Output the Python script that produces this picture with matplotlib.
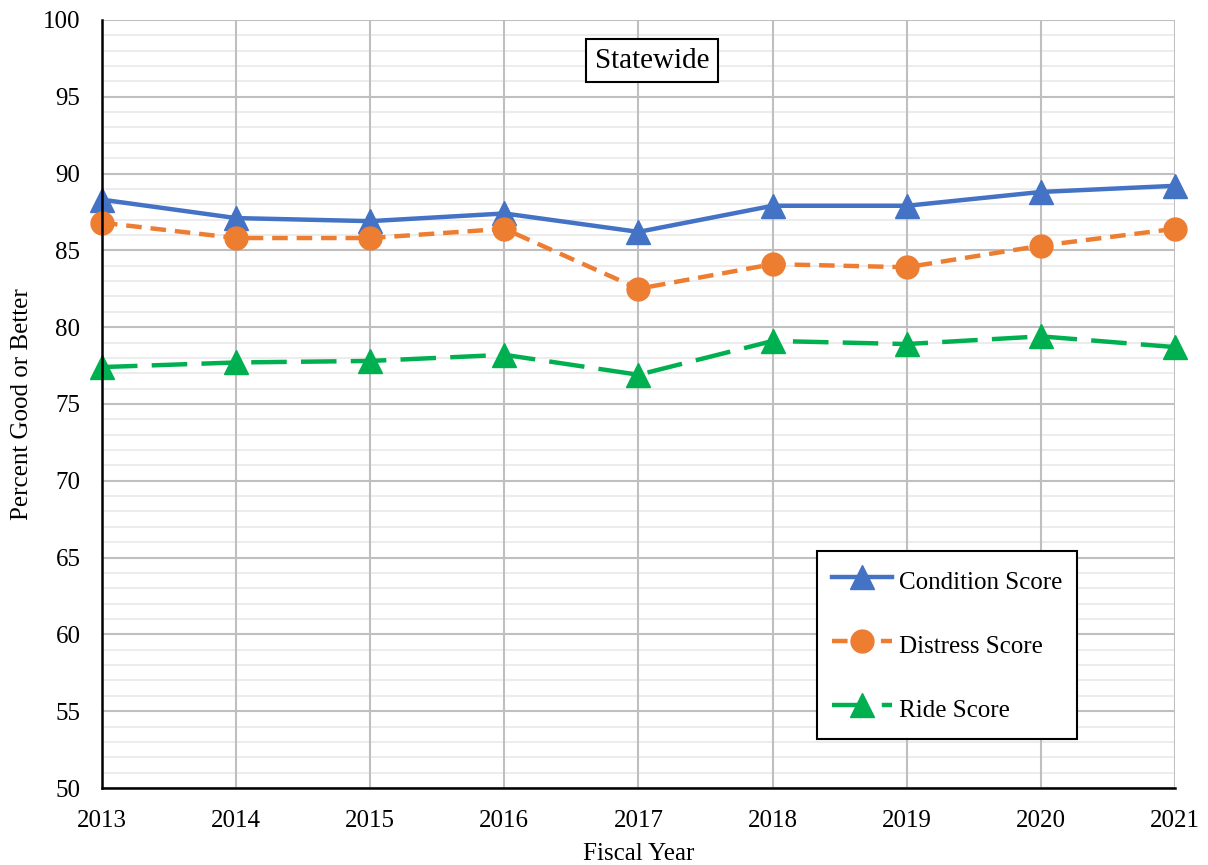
import matplotlib.pyplot as plt
from matplotlib.ticker import MultipleLocator

# Pavement scores, percent good or better
years = [2013, 2014, 2015, 2016, 2017, 2018, 2019, 2020, 2021]
condition = [88.3, 87.1, 86.9, 87.4, 86.2, 87.9, 87.9, 88.8, 89.2]
distress = [86.8, 85.8, 85.8, 86.4, 82.5, 84.1, 83.9, 85.3, 86.4]
ride = [77.4, 77.7, 77.8, 78.2, 76.9, 79.1, 78.9, 79.4, 78.7]

plt.rcParams['font.family'] = ['Liberation Serif', 'DejaVu Serif']

fig = plt.figure(figsize=(12.08, 8.65), dpi=100)
ax = fig.add_axes([0.0844, 0.089, 0.8883, 0.888])

ax.plot(years, condition, color='#4472C4', lw=3.2, marker='^', ms=17,
        label='Condition Score', zorder=4, clip_on=False)
ax.plot(years, distress, color='#ED7D31', lw=3.2, ls=(0, (3.5, 2.0)),
        marker='o', ms=16.5, label='Distress Score', zorder=4, clip_on=False)
ax.plot(years, ride, color='#00B050', lw=3.2, ls=(0, (8, 3.2)),
        marker='^', ms=17, label='Ride Score', zorder=4, clip_on=False)

ax.set_xlim(2013, 2021)
ax.set_ylim(50, 100)
ax.set_xticks(years)
ax.yaxis.set_major_locator(MultipleLocator(5))
ax.yaxis.set_minor_locator(MultipleLocator(1))

ax.grid(which='major', color='#BFBFBF', lw=1.5)
ax.grid(which='minor', axis='y', color='#EBEBEB', lw=1.3)
ax.set_axisbelow(True)
# vertical lines sit above the light minor rows
ax.xaxis.set_zorder(0.7)

for side in ['top', 'right']:
    ax.spines[side].set_visible(False)
for side in ['left', 'bottom']:
    ax.spines[side].set_linewidth(1.8)
    ax.spines[side].set_color('black')
    ax.spines[side].set_zorder(5)

ax.tick_params(which='both', length=0, labelsize=18)
ax.tick_params(axis='y', pad=15.5)
ax.tick_params(axis='x', pad=16)

ax.set_xlabel('Fiscal Year', fontsize=18, labelpad=8)
ax.set_ylabel('Percent Good or Better', fontsize=18, labelpad=7.5)

ax.text(0.513, 0.947, 'Statewide', transform=ax.transAxes, ha='center',
        va='center', fontsize=21,
        bbox=dict(boxstyle='square,pad=0.3', fc='white', ec='black', lw=1.5))

leg = ax.legend(loc='lower right', bbox_to_anchor=(0.9087, 0.0638),
                fontsize=18, frameon=True, fancybox=False, edgecolor='black',
                framealpha=1, borderpad=0.6, labelspacing=1.34,
                handlelength=2.4, handleheight=1.5, handletextpad=0.25,
                borderaxespad=0)
leg.get_frame().set_linewidth(1.5)

fig.savefig('out.png', dpi=100)
